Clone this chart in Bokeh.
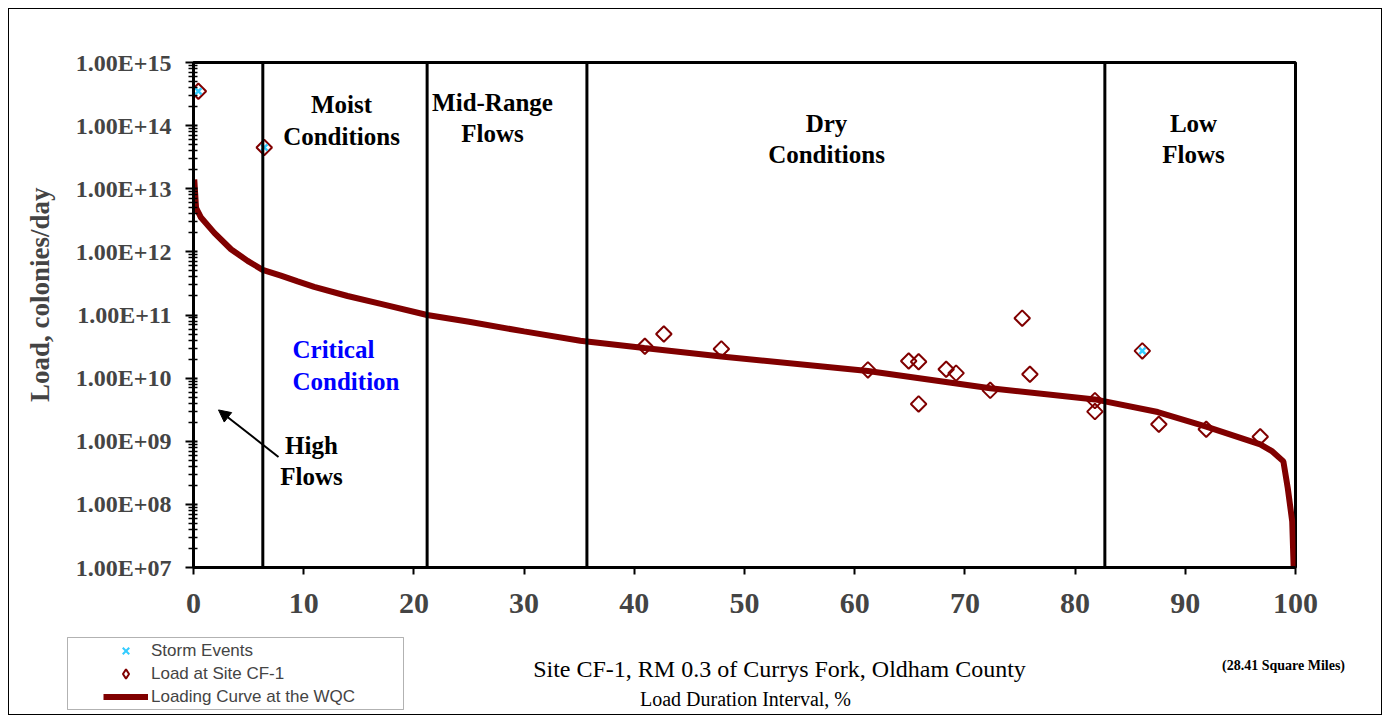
import math
from bokeh.plotting import figure
from bokeh.layouts import column, row
from bokeh.models import (FixedTicker, CustomJSTickFormatter, Span, Label, Arrow,
                          NormalHead, Legend, LegendItem, BoxAnnotation, Spacer)
from bokeh.embed import file_html
from bokeh.resources import INLINE

# ---------------- data ----------------
curve_interval = [0.07, 0.23, 0.68, 1.89, 3.40, 4.91, 6.27, 7.93, 9.45, 10.95, 13.98,
                  17.0, 21.2, 25.0, 30.0, 35.1, 40.9, 47.9, 61.2, 72.3, 81.8, 87.5,
                  91.9, 96.8, 97.9, 98.9, 99.3, 99.7, 99.85]
curve_load = [1.4e13, 5.0e12, 3.5e12, 2.0e12, 1.1e12, 7.2e11, 5.2e11, 4.2e11, 3.4e11,
              2.8e11, 2.0e11, 1.5e11, 1.0e11, 7.8e10, 5.5e10, 3.9e10, 3.0e10, 2.2e10,
              1.3e10, 6.9e9, 4.6e9, 2.9e9, 1.7e9, 8.9e8, 6.9e8, 4.8e8, 1.8e8, 5.4e7, 8.0e6]

site_interval = [0.44, 6.42, 40.96, 42.68, 47.9, 61.2, 64.9, 65.8, 65.8, 68.3, 69.2,
                 72.3, 75.2, 75.9, 81.8, 81.8, 86.1, 87.6, 91.9, 96.8]
site_load = [3.5e14, 4.5e13, 3.2e10, 5.0e10, 2.9e10, 1.35e10, 1.87e10, 1.82e10, 3.9e9,
             1.38e10, 1.2e10, 6.4e9, 8.9e10, 1.15e10, 4.4e9, 2.95e9, 2.7e10, 1.86e9,
             1.55e9, 1.18e9]

storm_interval = [0.44, 6.42, 86.1]
storm_load = [3.5e14, 4.5e13, 2.7e10]

zone_bounds = [6.29, 21.2, 35.7, 82.7]

x_ticks = [0, 10, 20, 30, 40, 50, 60, 70, 80, 90, 100]
y_ticks = [1e7, 1e8, 1e9, 1e10, 1e11, 1e12, 1e13, 1e14, 1e15]
y_tick_labels = ["1.00E+07", "1.00E+08", "1.00E+09", "1.00E+10", "1.00E+11",
                 "1.00E+12", "1.00E+13", "1.00E+14", "1.00E+15"]

# ---------------- helpers (page pixel -> data) ----------------
def px2x(px):
    return (px - 193.0) / 11.02

def py2y(py):
    return 10 ** (15 - (py - 61.7) / 63.1)

SERIF = "Liberation Serif"
SANS = "Liberation Sans"
DARKRED = "#800000"
CYAN = "#33ccff"
W = 1372

p = figure(width=W, height=623, x_range=(0, 100), y_range=(1e7, 1e15),
           y_axis_type="log", output_backend="svg", toolbar_location=None,
           min_border_left=184, min_border_right=W - 184 - 1102, min_border_top=53,
           min_border_bottom=623 - 53 - 505)
p.background_fill_color = "white"
p.border_fill_color = "white"
p.grid.visible = False
p.outline_line_color = "black"
p.outline_line_width = 3

# axes
xa = p.xaxis[0]
xa.ticker = FixedTicker(ticks=x_ticks, minor_ticks=[])
xa.axis_line_width = 3
xa.major_tick_line_width = 2
xa.major_tick_out = 7
xa.major_tick_in = 0
xa.minor_tick_line_color = None
xa.major_label_text_font = SERIF
xa.major_label_text_font_style = "bold"
xa.major_label_text_font_size = "30px"
xa.major_label_standoff = 19

minor = [k * 10 ** e for e in range(7, 15) for k in range(2, 10)]
ya = p.yaxis[0]
ya.ticker = FixedTicker(ticks=y_ticks, minor_ticks=minor)
ya.formatter = CustomJSTickFormatter(args=dict(tv=y_ticks, tl=y_tick_labels), code="""
    for (let i = 0; i < tv.length; i++) {
        if (Math.abs(Math.log10(tv[i]) - Math.log10(tick)) < 1e-6) return tl[i];
    }
    return "";
""")
ya.axis_line_width = 3
ya.major_tick_line_width = 2
ya.major_tick_out = 8
ya.major_tick_in = 4
ya.minor_tick_line_width = 1.5
ya.minor_tick_out = 5
ya.minor_tick_in = 4
ya.major_label_text_font = SERIF
ya.major_label_text_font_style = "bold"
ya.major_label_text_font_size = "24px"
ya.major_label_standoff = 14
ya.axis_label = "\u00a0" * 6 + "Load, colonies/day"
ya.axis_label_text_font = SERIF
ya.axis_label_text_font_style = "bold"
ya.axis_label_text_font_size = "27px"
ya.axis_label_standoff = 18

# data
curve = p.line(curve_interval, curve_load, line_color=DARKRED, line_width=6)
sites = p.scatter(site_interval, site_load, marker="square", angle=math.pi / 4, size=11,
                  line_color=DARKRED, line_width=2, fill_color=None)
storms = p.scatter(storm_interval, storm_load, marker="x", size=9,
                   line_color=CYAN, line_width=2.5)

for b in zone_bounds:
    p.add_layout(Span(location=b, dimension="height", line_color="black", line_width=3))

def lab(fig, x, y, text, size="25px", color="black", style="bold", align="center",
        font=SERIF):
    fig.add_layout(Label(x=x, y=y, text=text, text_font=font, text_font_size=size,
                         text_font_style=style, text_color=color, text_align=align,
                         text_baseline="middle"))

def plab(text, px, py, **kw):
    lab(p, px2x(px), py2y(py), text, **kw)

plab("Moist", 341, 104)
plab("Conditions", 341, 136)
plab("Mid-Range", 492, 102)
plab("Flows", 492, 133)
plab("Dry", 826, 123)
plab("Conditions", 826, 154)
plab("Low", 1193, 123)
plab("Flows", 1193, 154)
plab("Critical", 292, 349, color="#0000ff", align="left")
plab("Condition", 292, 381, color="#0000ff", align="left")
plab("High", 311, 445)
plab("Flows", 311, 476)

p.add_layout(Arrow(end=NormalHead(size=12, fill_color="black", line_color="black"),
                   x_start=px2x(278), y_start=py2y(456), x_end=px2x(218), y_end=py2y(409),
                   line_color="black", line_width=2))

# ---------------- bottom strip: axis title, note, legend ----------------
H2 = 82
p2 = figure(width=W, height=H2, x_range=(0, W), y_range=(H2, 0), output_backend="svg",
            toolbar_location=None, min_border=0, x_axis_location=None,
            y_axis_location=None)
for fig in (p, p2):
    if "frame_align" in fig.properties():
        fig.frame_align = False
p2.grid.visible = False
p2.outline_line_color = None
p2.background_fill_color = "white"
p2.border_fill_color = "white"

# strip origin is page (9, 632)
def blab(text, px, py, **kw):
    lab(p2, px - 9, py - 632, text, **kw)

blab("Site CF-1, RM 0.3 of  Currys Fork, Oldham County", 782, 668, size="24px", style="normal")
blab("Load Duration Interval, %", 745, 698, size="20px", style="normal")
blab("(28.41 Square Miles)", 1283, 665, size="14px")

p2.add_layout(BoxAnnotation(left=67 - 9, right=403 - 9, top=637 - 632, bottom=709 - 632,
                            fill_alpha=0, line_color="black", line_width=1))
l_storm = p2.scatter([-50], [-50], marker="x", size=9, line_color=CYAN, line_width=2)
l_site = p2.scatter([-50], [-50], marker="diamond", size=11,
                    line_color=DARKRED, line_width=2, fill_color=None)
l_curve = p2.line([-60, -50], [-50, -50], line_color=DARKRED, line_width=6)
legend = Legend(items=[LegendItem(label="Storm Events", renderers=[l_storm]),
                       LegendItem(label="Load at Site CF-1", renderers=[l_site]),
                       LegendItem(label="Loading Curve at the WQC", renderers=[l_curve])],
                location=(101 - 9, 714 - 710), border_line_alpha=0,
                background_fill_alpha=0, padding=2, spacing=0, margin=0,
                glyph_width=45, glyph_height=23, label_height=23, label_standoff=3,
                label_text_font=SANS, label_text_font_size="17px")
p2.add_layout(legend)

inner = column(p, p2, spacing=0, styles={"border": "1px solid black"})
page = row(Spacer(width=8), column(Spacer(height=8), inner, spacing=0), spacing=0)

open("out.html", "w").write(file_html(page, INLINE))
